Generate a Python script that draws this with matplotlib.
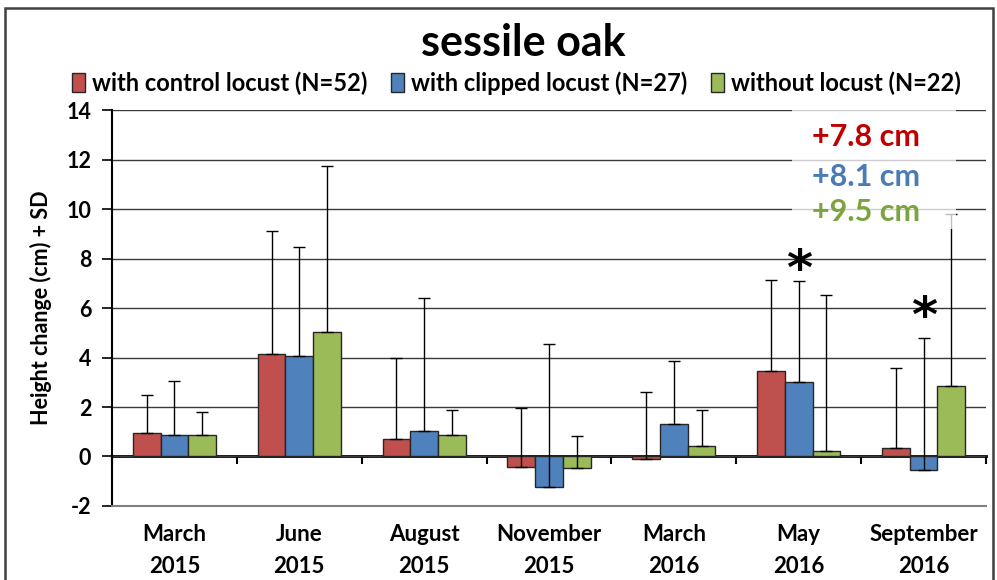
import numpy as np
import matplotlib
matplotlib.use("Agg")
import matplotlib.pyplot as plt
from matplotlib.patches import Rectangle

plt.rcParams["axes.unicode_minus"] = False

# ---------------- data ----------------
months = ["March", "June", "August", "November", "March", "May", "September"]
years = ["2015", "2015", "2015", "2015", "2016", "2016", "2016"]
series_names = ["with control locust (N=52)", "with clipped locust (N=27)", "without locust (N=22)"]
control_mean = [0.95, 4.15, 0.70, -0.42, -0.10, 3.45, 0.34]
control_sd = [1.55, 4.97, 3.30, 2.36, 2.71, 3.70, 3.23]
clipped_mean = [0.85, 4.07, 1.04, -1.22, 1.33, 3.03, -0.54]
clipped_sd = [2.22, 4.41, 5.36, 5.77, 2.51, 4.07, 5.32]
without_mean = [0.85, 5.02, 0.85, -0.46, 0.42, 0.24, 2.84]
without_sd = [0.96, 6.71, 1.01, 1.27, 1.44, 6.29, 6.95]
totals = ["+7.8 cm", "+8.1 cm", "+9.5 cm"]
sig_groups = [5, 6]
sig_levels = [7.9, 6.0]

colors = ["#C0504D", "#4F81BD", "#9BBB59"]
text_colors = ["#C00000", "#4A7BB7", "#7BA33E"]
FONT = "Lato"

fig = plt.figure(figsize=(9.97, 5.8), dpi=100)
ax = fig.add_axes([0.1123, 0.1276, 0.8767, 0.6827])

x = np.arange(len(months))
w = 0.222
means = [control_mean, clipped_mean, without_mean]
sds = [control_sd, clipped_sd, without_sd]
for k in range(3):
    pos = x + (k - 1) * w
    ax.bar(pos, means[k], width=w, color=colors[k], edgecolor="#262626",
           linewidth=1.0, zorder=3, label=series_names[k])
    ax.errorbar(pos, means[k], yerr=[np.zeros(len(x)), sds[k]], fmt="none",
                ecolor="black", elinewidth=1.0, capsize=4, capthick=1.0, zorder=4)

ax.set_xlim(-0.5, len(months) - 0.5)
ax.set_ylim(-2, 14)
ax.set_yticks(np.arange(-2, 15, 2))
ax.grid(axis="y", color="#3a3a3a", linewidth=1.0, zorder=0)
ax.set_axisbelow(True)

for s in ["top", "right"]:
    ax.spines[s].set_visible(False)
ax.spines["left"].set_color("black")
ax.spines["left"].set_linewidth(1.5)
ax.spines["bottom"].set_color("#808080")
ax.spines["bottom"].set_linewidth(1.5)

ax.set_xticks(x)
ax.set_xticklabels([f"{m}\n{y}" for m, y in zip(months, years)],
                   fontfamily=FONT, fontweight="bold", fontsize=16, linespacing=1.65)
ax.tick_params(axis="x", length=0, pad=13)
ax.tick_params(axis="y", direction="out", length=7, width=1.2, pad=8)
for lab in ax.get_yticklabels():
    lab.set_fontfamily(FONT)
    lab.set_fontweight("bold")
    lab.set_fontsize(15.5)

# zero axis line with boundary ticks
sec = ax.secondary_xaxis(0.125)
sec.set_xticks(np.arange(-0.5, len(months), 1.0))
sec.set_xticklabels([])
sec.tick_params(direction="out", length=6, width=1.5)
sec.spines["bottom"].set_linewidth(2.0)
sec.spines["bottom"].set_color("black")

ax.set_ylabel("Height change (cm) + SD", fontfamily=FONT, fontweight="bold",
              fontsize=15.5, labelpad=10)

# semi-transparent box behind totals
ax.add_patch(Rectangle((4.95, 9.2), 1.31, 5.0, facecolor="white", edgecolor="none",
                       alpha=0.75, zorder=5, clip_on=False))
text_y = [12.9, 11.3, 9.88]
for t, c, ty in zip(totals, text_colors, text_y):
    ax.text(5.54, ty, t, color=c, fontfamily=FONT, fontweight="bold",
            fontsize=22, ha="center", va="center", zorder=6)

for g, lv in zip(sig_groups, sig_levels):
    ax.text(g, lv - 0.4, "*", fontsize=36, fontweight="bold", ha="center", va="center",
            fontfamily="DejaVu Sans", zorder=6)

fig.text(0.525, 0.926, "sessile oak", fontfamily=FONT, fontweight="bold",
         fontsize=31, ha="center", va="center")
leg = fig.legend(loc="center", bbox_to_anchor=(0.518, 0.857), ncol=3, frameon=False,
                 prop={"family": FONT, "weight": "bold", "size": 17},
                 handlelength=0.55, handleheight=0.9, handletextpad=0.3, columnspacing=1.0)

fig.patches.append(Rectangle((0.005, -0.01), 0.991, 0.996, transform=fig.transFigure,
                             facecolor="none", edgecolor="#404040", linewidth=1.8))

fig.savefig("out.png", dpi=100)
